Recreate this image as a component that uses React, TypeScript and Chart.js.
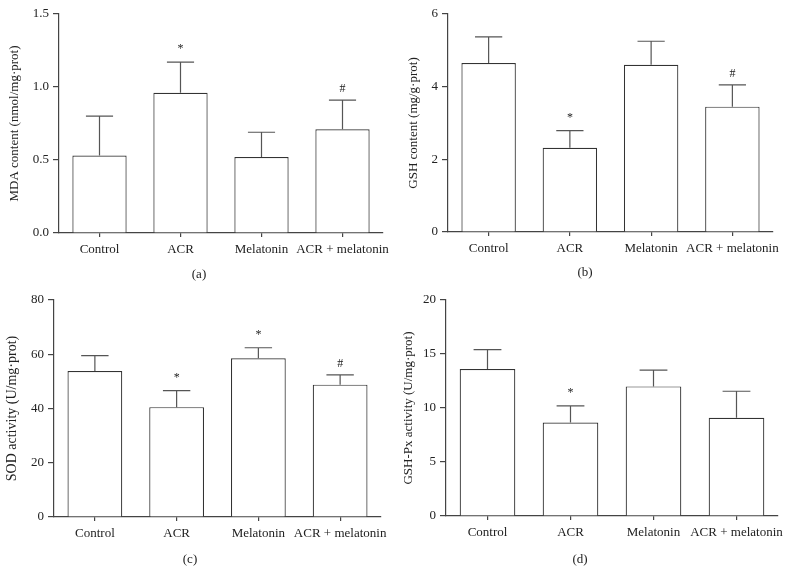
import React, { useEffect, useRef } from "react";
import { Chart, registerables } from "chart.js";
Chart.register(...registerables);

const categories = ["Control", "ACR", "Melatonin", "ACR + melatonin"];

const mdaMean = [0.53, 0.96, 0.52, 0.71];
const mdaSD = [0.27, 0.21, 0.17, 0.2];
const mdaMarks = ["", "*", "", "#"];
const mdaTicks = ["0.0", "0.5", "1.0", "1.5"];

const gshMean = [4.65, 2.32, 4.6, 3.45];
const gshSD = [0.72, 0.47, 0.65, 0.6];
const gshMarks = ["", "*", "", "#"];
const gshTicks = ["0", "2", "4", "6"];

const sodMean = [53.8, 40.5, 58.5, 48.8];
const sodSD = [5.7, 6.1, 3.9, 3.6];
const sodMarks = ["", "*", "*", "#"];
const sodTicks = ["0", "20", "40", "60", "80"];

const gpxMean = [13.6, 8.65, 12.0, 9.1];
const gpxSD = [1.8, 1.55, 1.5, 2.45];
const gpxMarks = ["", "*", "", ""];
const gpxTicks = ["0", "5", "10", "15", "20"];

const FONT = "'Liberation Serif', 'Times New Roman', serif";
const INK = "#444";
const TEXT = "#222";

type Panel = {
  left: number; top: number; width: number; height: number;
  area: { l: number; t: number; r: number; b: number };
  title: string; titleSize: number; titlePad: number;
  mean: number[]; sd: number[]; marks: string[];
  yMax: number; yStep: number; yTicks: string[];
  label: string; labelX: number; labelY: number;
};

const panels: Panel[] = [
  {
    left: 0, top: 0, width: 396, height: 287,
    area: { l: 59, t: 14, r: 383, b: 233 },
    title: "MDA content (nmol/mg·prot)", titleSize: 13, titlePad: 7,
    mean: mdaMean, sd: mdaSD, marks: mdaMarks,
    yMax: 1.5, yStep: 0.5, yTicks: mdaTicks,
    label: "(a)", labelX: 199, labelY: 275,
  },
  {
    left: 396, top: 0, width: 396, height: 287,
    area: { l: 52, t: 14, r: 377, b: 232 },
    title: "GSH content (mg/g·prot)", titleSize: 13, titlePad: 10,
    mean: gshMean, sd: gshSD, marks: gshMarks,
    yMax: 6, yStep: 2, yTicks: gshTicks,
    label: "(b)", labelX: 189, labelY: 273,
  },
  {
    left: 0, top: 287, width: 396, height: 287,
    area: { l: 54, t: 13, r: 381, b: 230 },
    title: "SOD activity (U/mg·prot)", titleSize: 14, titlePad: 4,
    mean: sodMean, sd: sodSD, marks: sodMarks,
    yMax: 80, yStep: 20, yTicks: sodTicks,
    label: "(c)", labelX: 190, labelY: 273,
  },
  {
    left: 396, top: 287, width: 396, height: 287,
    area: { l: 50, t: 13, r: 382, b: 229 },
    title: "GSH-Px activity (U/mg·prot)", titleSize: 13, titlePad: 5,
    mean: gpxMean, sd: gpxSD, marks: gpxMarks,
    yMax: 20, yStep: 5, yTicks: gpxTicks,
    label: "(d)", labelX: 184, labelY: 273,
  },
];

function PanelChart({ p }: { p: Panel }) {
  const ref = useRef<HTMLCanvasElement | null>(null);
  useEffect(() => {
    if (!ref.current) return;
    const extras = {
      id: "extras",
      afterDatasetsDraw(chart: any) {
        const ctx = chart.ctx;
        const meta = chart.getDatasetMeta(0);
        const y = chart.scales.y;
        ctx.save();
        ctx.strokeStyle = "#555";
        ctx.lineWidth = 1.2;
        meta.data.forEach((bar: any, i: number) => {
          const topPx = y.getPixelForValue(p.mean[i] + p.sd[i]);
          const half = bar.width / 4;
          ctx.beginPath();
          ctx.moveTo(bar.x, bar.y);
          ctx.lineTo(bar.x, topPx);
          ctx.moveTo(bar.x - half, topPx);
          ctx.lineTo(bar.x + half, topPx);
          ctx.stroke();
          const m = p.marks[i];
          if (m) {
            ctx.fillStyle = TEXT;
            ctx.font = `12px ${FONT}`;
            ctx.textAlign = "center";
            ctx.textBaseline = "alphabetic";
            ctx.fillText(m, bar.x, topPx - (m === "*" ? 10 : 8));
          }
        });
        ctx.restore();
      },
      afterDraw(chart: any) {
        const ctx = chart.ctx;
        ctx.save();
        ctx.fillStyle = TEXT;
        ctx.font = `13px ${FONT}`;
        ctx.textAlign = "center";
        ctx.textBaseline = "middle";
        ctx.fillText(p.label, p.labelX, p.labelY);
        ctx.restore();
      },
    };
    const chart = new Chart(ref.current, {
      type: "bar",
      data: {
        labels: categories,
        datasets: [
          {
            data: p.mean,
            backgroundColor: "#ffffff",
            borderColor: "#333",
            borderWidth: 1.2,
            barPercentage: 0.67,
            categoryPercentage: 1,
          },
        ],
      },
      options: {
        animation: false,
        responsive: false,
        devicePixelRatio: 1,
        layout: {
          padding: { left: 0, top: p.area.t, right: p.width - p.area.r, bottom: 0 },
        },
        plugins: { legend: { display: false }, tooltip: { enabled: false }, title: { display: false } },
        scales: {
          x: {
            offset: true,
            afterFit: (s: any) => { s.height = p.height - p.area.b; },
            grid: { display: true, drawOnChartArea: false, drawTicks: true, tickLength: 4, offset: false, color: INK, lineWidth: 1.2 },
            border: { display: true, color: INK, width: 1.2 },
            ticks: { autoSkip: false, maxRotation: 0, minRotation: 0, padding: 5, color: TEXT, font: { family: FONT, size: 13 } },
          },
          y: {
            min: 0,
            max: p.yMax,
            afterFit: (s: any) => { s.width = p.area.l; },
            grid: { display: true, drawOnChartArea: false, drawTicks: true, tickLength: 6, color: INK, lineWidth: 1.2 },
            border: { display: true, color: INK, width: 1.2 },
            ticks: {
              stepSize: p.yStep,
              padding: 4,
              color: TEXT,
              font: { family: FONT, size: 13 },
              callback: (_v: any, i: number) => p.yTicks[i],
            },
            title: {
              display: true,
              text: p.title,
              color: TEXT,
              font: { family: FONT, size: p.titleSize },
              padding: { top: p.titlePad, bottom: 0 },
            },
          },
        },
      },
      plugins: [extras],
    } as any);
    return () => chart.destroy();
  }, [p]);
  return (
    <canvas
      ref={ref}
      width={p.width}
      height={p.height}
      style={{ position: "absolute", left: p.left, top: p.top, width: p.width, height: p.height }}
    />
  );
}

export default function App() {
  return (
    <div style={{ position: "absolute", left: 0, top: 0, width: 792, height: 574, background: "#fff", overflow: "hidden" }}>
      {panels.map((p, i) => (
        <PanelChart key={i} p={p} />
      ))}
    </div>
  );
}
